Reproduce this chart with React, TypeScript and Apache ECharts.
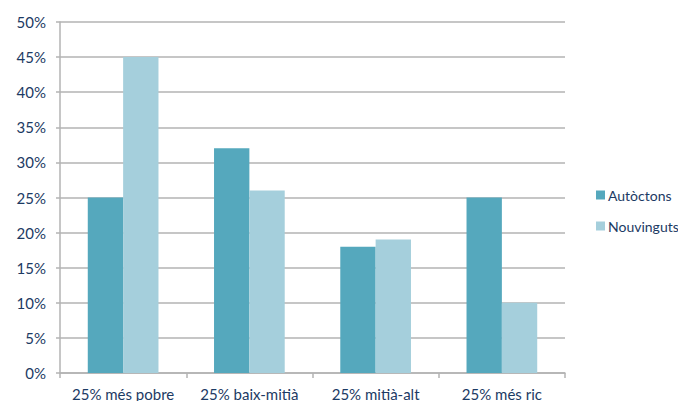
import React, { useEffect, useRef } from "react";
import * as echarts from "echarts";

const categories = ["25% més pobre", "25% baix-mitià", "25% mitià-alt", "25% més ric"];
const autoctons = [25, 32, 18, 25];
const nouvinguts = [45, 26, 19, 10];
const seriesNames = ["Autòctons", "Nouvinguts"];

const textColor = "#1c3a64";
const font = "Lato, 'Open Sans', sans-serif";

export default function App() {
  const ref = useRef<HTMLDivElement>(null);
  useEffect(() => {
    const chart = echarts.init(ref.current!, null, { renderer: "svg" });
    chart.setOption({
      animation: false,
      grid: { left: 60, right: 113, top: 22, bottom: 26, containLabel: false },
      legend: {
        orient: "vertical",
        left: 591,
        top: 183,
        itemWidth: 9,
        itemHeight: 9,
        itemGap: 17,
        icon: "rect",
        textStyle: { color: textColor, fontSize: 14, fontFamily: font, padding: [0, 0, 0, -2] },
        data: seriesNames,
      },
      xAxis: {
        type: "category",
        data: categories,
        axisLine: { lineStyle: { color: "#b3b3b3", width: 1.5 } },
        axisTick: { show: true, length: 5, lineStyle: { color: "#b3b3b3", width: 1.5 } },
        axisLabel: { color: textColor, fontSize: 15, fontFamily: font, margin: 13, interval: 0 },
      },
      yAxis: {
        type: "value",
        min: 0,
        max: 50,
        interval: 5,
        axisLine: { show: true, lineStyle: { color: "#b3b3b3", width: 1.5 } },
        axisTick: { show: true, length: 4, lineStyle: { color: "#b3b3b3", width: 1.5 } },
        splitLine: { lineStyle: { color: "#b3b3b3", width: 1.5 } },
        axisLabel: { color: textColor, fontSize: 15, fontFamily: font, margin: 14, formatter: "{value}%" },
      },
      series: [
        {
          name: seriesNames[0],
          type: "bar",
          data: autoctons,
          itemStyle: { color: "#55a8bd" },
          barGap: "0%",
          barCategoryGap: "44%",
        },
        {
          name: seriesNames[1],
          type: "bar",
          data: nouvinguts,
          itemStyle: { color: "#a5cfdc" },
          barGap: "0%",
          barCategoryGap: "44%",
        },
      ],
    });
    return () => chart.dispose();
  }, []);
  return (
    <div
      ref={ref}
      style={{ position: "fixed", left: 0, top: 0, width: 678, height: 401, background: "#fff" }}
    />
  );
}
